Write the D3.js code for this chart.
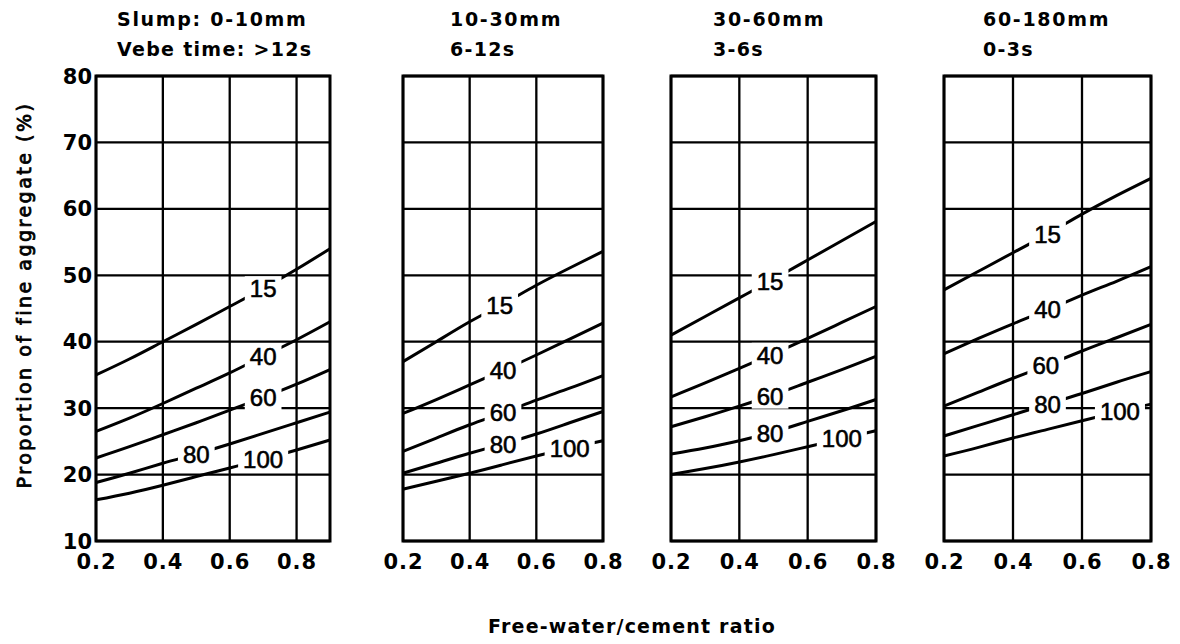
<!DOCTYPE html>
<html lang="en">
<head>
<meta charset="utf-8">
<title>Proportion of fine aggregate vs free-water/cement ratio</title>
<script src="https://cdn.jsdelivr.net/npm/d3@7/dist/d3.min.js"></script>
<style>
  body { margin: 0; background: #fff; }
  text { font-family: "DejaVu Sans", sans-serif; fill: #000; }
  .curve-label { font-family: "Liberation Sans", Arial, sans-serif; }
</style>
</head>
<body>
<script>
// x values (free-water/cement ratio)
var wcPanel1 = [0.2, 0.3, 0.4, 0.5, 0.6, 0.7, 0.8, 0.9];
var wcOther = [0.2, 0.3, 0.4, 0.5, 0.6, 0.7, 0.8];

// curve labels: percentage passing 600 um sieve
var sieveLabels = ["15", "40", "60", "80", "100"];

var slumpText = ["Slump: 0-10mm", "10-30mm", "30-60mm", "60-180mm"];
var vebeText = ["Vebe time: >12s", "6-12s", "3-6s", "0-3s"];

var yTicks = [10, 20, 30, 40, 50, 60, 70, 80];
var xTicks = [0.2, 0.4, 0.6, 0.8];
var xTickLabels = ["0.2", "0.4", "0.6", "0.8"];

// proportion of fine aggregate (%) per curve, one row per label
var slump0to10 = [
  [35, 37.4, 40, 42.6, 45.3, 48, 50.9, 54],
  [26.5, 28.5, 30.7, 33, 35.3, 37.8, 40.3, 43],
  [22.5, 24.2, 26, 27.8, 29.7, 31.6, 33.6, 35.8],
  [18.8, 20.2, 21.7, 23.1, 24.6, 26.2, 27.8, 29.4],
  [16.2, 17.2, 18.4, 19.7, 21, 22.3, 23.7, 25.2]
];
var slump10to30 = [
  [37, 40, 43, 45.7, 48.5, 51.1, 53.6],
  [29.2, 31.3, 33.5, 35.7, 38, 40.4, 42.8],
  [23.5, 25.5, 27.5, 29.3, 31.2, 33, 34.9],
  [20.2, 21.7, 23.2, 24.6, 26.1, 27.8, 29.5],
  [17.8, 19, 20.2, 21.5, 22.8, 24, 25.1]
];
var slump30to60 = [
  [41, 43.8, 46.6, 49.4, 52.3, 55.2, 58.1],
  [31.7, 33.8, 36, 38.2, 40.5, 42.9, 45.3],
  [27.2, 28.7, 30.3, 32, 33.9, 35.8, 37.8],
  [23.1, 24, 25.1, 26.4, 28, 29.6, 31.3],
  [20, 20.9, 21.9, 23, 24.2, 25.4, 26.6]
];
var slump60to180 = [
  [47.8, 50.6, 53.4, 56.2, 59.2, 62, 64.6],
  [38.2, 40.5, 42.7, 44.8, 47, 49.1, 51.3],
  [30.3, 32.4, 34.5, 36.5, 38.6, 40.6, 42.6],
  [25.8, 27.4, 29, 30.6, 32.2, 33.9, 35.5],
  [22.8, 24.1, 25.5, 26.8, 28.1, 29.4, 30.6]
];

// w/c ratio where each curve label sits
var labelAt = [
  [0.7, 0.7, 0.7, 0.5, 0.7],
  [0.49, 0.5, 0.5, 0.5, 0.7],
  [0.49, 0.49, 0.49, 0.49, 0.7],
  [0.5, 0.5, 0.495, 0.5, 0.71]
];

var panels = [
  { xs: wcPanel1, ys: slump0to10, x0: 96, x1: 330, tx: 117 },
  { xs: wcOther, ys: slump10to30, x0: 403, x1: 603, tx: 450 },
  { xs: wcOther, ys: slump30to60, x0: 671, x1: 876, tx: 713 },
  { xs: wcOther, ys: slump60to180, x0: 944, x1: 1151, tx: 983 }
];

var width = 1180, height = 644;
var plotTop = 76, plotBottom = 541;

var svg = d3.select("body").append("svg")
  .attr("width", width)
  .attr("height", height);

svg.append("rect").attr("width", width).attr("height", height).attr("fill", "#fff");

var y = d3.scaleLinear().domain([10, 80]).range([plotBottom, plotTop]);

panels.forEach(function(p, i) {
  var x = d3.scaleLinear().domain(d3.extent(p.xs)).range([p.x0, p.x1]);
  var g = svg.append("g");

  // grid
  g.selectAll(".h").data(yTicks).enter().append("line")
    .attr("x1", p.x0).attr("x2", p.x1)
    .attr("y1", function(d) { return y(d); })
    .attr("y2", function(d) { return y(d); })
    .attr("stroke", "#000").attr("stroke-width", 2.3);
  g.selectAll(".v").data(xTicks).enter().append("line")
    .attr("x1", function(d) { return x(d); })
    .attr("x2", function(d) { return x(d); })
    .attr("y1", plotTop).attr("y2", plotBottom)
    .attr("stroke", "#000").attr("stroke-width", 2.3);

  g.append("rect")
    .attr("x", p.x0).attr("y", plotTop)
    .attr("width", p.x1 - p.x0).attr("height", plotBottom - plotTop)
    .attr("fill", "none").attr("stroke", "#000").attr("stroke-width", 3);

  // curves
  var line = d3.line()
    .x(function(d, j) { return x(p.xs[j]); })
    .y(function(d) { return y(d); })
    .curve(d3.curveNatural);

  g.selectAll(".curve").data(p.ys).enter().append("path")
    .attr("d", line)
    .attr("fill", "none").attr("stroke", "#000").attr("stroke-width", 3);

  // curve labels with white backing
  p.ys.forEach(function(vals, k) {
    var at = labelAt[i][k];
    var yv = d3.scaleLinear().domain(p.xs).range(vals)(at);
    var lg = g.append("g");
    var t = lg.append("text")
      .attr("class", "curve-label")
      .attr("x", x(at)).attr("y", y(yv)).attr("dy", "0.36em")
      .attr("text-anchor", "middle")
      .style("font-size", "24px")
      .attr("stroke", "#000").attr("stroke-width", 0.6)
      .text(sieveLabels[k]);
    var b = t.node().getBBox();
    lg.insert("rect", "text")
      .attr("x", b.x - 5).attr("y", b.y + 1)
      .attr("width", b.width + 10).attr("height", b.height - 2)
      .attr("fill", "#fff");
  });

  // x tick labels
  g.selectAll(".xt").data(xTicks).enter().append("text")
    .attr("x", function(d) { return x(d) + 0.5; })
    .attr("y", 569)
    .attr("text-anchor", "middle")
    .style("font-size", "21px").style("font-weight", "bold")
    .style("letter-spacing", "1px")
    .text(function(d, j) { return xTickLabels[j]; });

  // titles
  svg.append("text").attr("x", p.tx).attr("y", 26)
    .style("font-size", "19px").style("font-weight", "bold")
    .style("letter-spacing", "1.7px")
    .text(slumpText[i]);
  svg.append("text").attr("x", p.tx).attr("y", 56)
    .style("font-size", "19px").style("font-weight", "bold")
    .style("letter-spacing", "1.3px")
    .text(vebeText[i]);
});

// y tick labels on first panel
svg.selectAll(".yt").data(yTicks).enter().append("text")
  .attr("x", 92)
  .attr("y", function(d) { return y(d); })
  .attr("dy", "0.36em")
  .attr("text-anchor", "end")
  .style("font-size", "21px").style("font-weight", "bold")
  .text(function(d) { return d; });

// axis titles
svg.append("text")
  .attr("transform", "translate(31,295) rotate(-90)")
  .attr("text-anchor", "middle")
  .style("font-size", "19px")
  .style("letter-spacing", "2.5px")
  .attr("stroke", "#000").attr("stroke-width", 0.8)
  .text("Proportion of fine aggregate (%)");

svg.append("text")
  .attr("x", 632).attr("y", 633)
  .attr("text-anchor", "middle")
  .style("font-size", "19px").style("font-weight", "bold")
  .style("letter-spacing", "1.2px")
  .text("Free-water/cement ratio");
</script>
</body>
</html>
